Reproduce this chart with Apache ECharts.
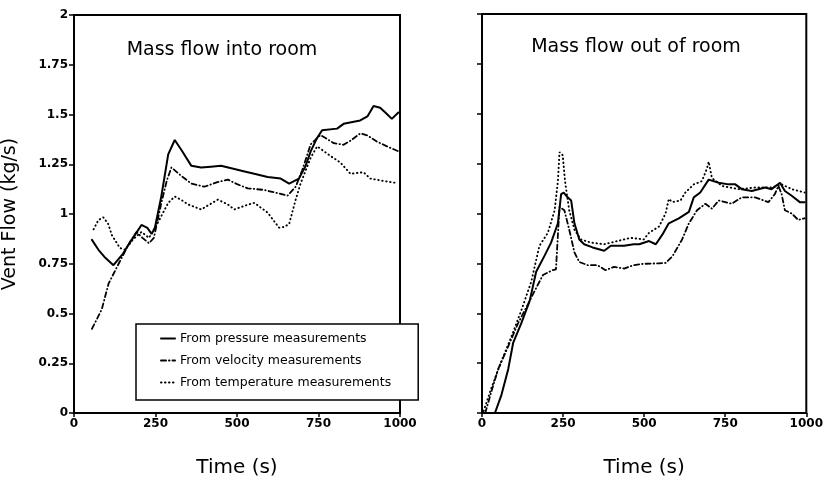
<!DOCTYPE html>
<html>
<head>
<meta charset="utf-8">
<script src="https://cdn.jsdelivr.net/npm/echarts@6/dist/echarts.min.js"></script>
<style>
html,body{margin:0;padding:0;background:#fff;}
#chart{width:826px;height:483px;}
</style>
</head>
<body>
<div id="chart"></div>
<script>
// ---- Data (time in s, vent flow in kg/s) ----
const seriesNames = ['From pressure measurements', 'From velocity measurements', 'From temperature measurements'];
const panelTitles = ['Mass flow into room', 'Mass flow out of room'];
const xTicks = [0, 250, 500, 750, 1000];
const yTicks = [0, 0.25, 0.5, 0.75, 1, 1.25, 1.5, 1.75, 2];

// Left panel: mass flow into room
const inPressureT = [55, 75, 96, 121, 150, 167, 185, 207, 225, 238, 248, 268, 289, 309, 330, 360, 390, 420, 451, 492, 520, 553, 594, 634, 660, 690, 710, 726, 745, 761, 807, 827, 878, 900, 919, 939, 955, 975, 995];
const inPressureV = [0.87, 0.82, 0.78, 0.743, 0.8, 0.845, 0.89, 0.945, 0.93, 0.90, 0.93, 1.09, 1.30, 1.372, 1.32, 1.242, 1.234, 1.238, 1.242, 1.226, 1.215, 1.202, 1.186, 1.178, 1.153, 1.178, 1.24, 1.315, 1.38, 1.421, 1.429, 1.453, 1.47, 1.49, 1.543, 1.534, 1.51, 1.478, 1.51];

const inVelocityT = [55, 85, 106, 140, 172, 192, 210, 230, 245, 268, 285, 299, 330, 360, 400, 440, 472, 500, 533, 583, 624, 655, 680, 700, 726, 756, 797, 827, 850, 878, 900, 929, 960, 995];
const inVelocityV = [0.423, 0.52, 0.65, 0.76, 0.861, 0.91, 0.88, 0.853, 0.88, 1.056, 1.17, 1.234, 1.19, 1.153, 1.137, 1.16, 1.173, 1.15, 1.129, 1.121, 1.105, 1.092, 1.137, 1.22, 1.35, 1.397, 1.356, 1.348, 1.37, 1.405, 1.395, 1.364, 1.34, 1.315];

const inTemperatureT = [60, 75, 90, 105, 116, 141, 157, 182, 207, 230, 258, 289, 309, 330, 350, 390, 441, 470, 492, 530, 553, 594, 629, 645, 660, 680, 695, 726, 746, 787, 817, 848, 888, 909, 949, 985];
const inTemperatureV = [0.923, 0.97, 0.983, 0.95, 0.894, 0.829, 0.821, 0.874, 0.91, 0.88, 0.959, 1.056, 1.088, 1.07, 1.048, 1.023, 1.072, 1.05, 1.023, 1.045, 1.056, 1.007, 0.931, 0.935, 0.95, 1.072, 1.153, 1.283, 1.34, 1.291, 1.259, 1.202, 1.21, 1.178, 1.166, 1.157];

// Right panel: mass flow out of room
const outPressureT = [40, 60, 81, 96, 121, 147, 167, 193, 213, 234, 244, 252, 264, 275, 285, 300, 315, 341, 377, 397, 438, 468, 485, 515, 536, 556, 576, 607, 638, 653, 673, 699, 730, 760, 781, 801, 832, 873, 893, 919, 934, 955, 980, 995];
const outPressureV = [0, 0.091, 0.221, 0.351, 0.449, 0.562, 0.708, 0.789, 0.854, 0.951, 1.097, 1.105, 1.081, 1.065, 0.951, 0.87, 0.846, 0.83, 0.813, 0.838, 0.838, 0.846, 0.846, 0.862, 0.846, 0.894, 0.951, 0.976, 1.008, 1.081, 1.105, 1.17, 1.154, 1.146, 1.146, 1.122, 1.113, 1.13, 1.122, 1.154, 1.113, 1.089, 1.057, 1.057];

const outVelocityT = [10, 29, 50, 81, 111, 142, 162, 188, 218, 228, 239, 254, 269, 285, 300, 326, 356, 381, 407, 438, 468, 499, 546, 566, 587, 617, 638, 663, 689, 709, 730, 770, 801, 842, 883, 903, 914, 924, 934, 955, 975, 995];
const outVelocityV = [0, 0.108, 0.221, 0.335, 0.449, 0.546, 0.611, 0.692, 0.716, 0.72, 1.033, 1.016, 0.919, 0.805, 0.757, 0.741, 0.741, 0.716, 0.732, 0.724, 0.741, 0.748, 0.75, 0.752, 0.785, 0.87, 0.951, 1.016, 1.049, 1.024, 1.065, 1.049, 1.081, 1.081, 1.057, 1.097, 1.138, 1.097, 1.016, 1.0, 0.968, 0.976];

const outTemperatureT = [5, 30, 60, 90, 121, 152, 177, 203, 224, 234, 239, 249, 256, 269, 285, 305, 336, 377, 418, 458, 499, 515, 546, 566, 576, 587, 612, 627, 653, 678, 694, 699, 709, 740, 791, 842, 893, 924, 955, 995];
const outTemperatureV = [0.01, 0.13, 0.26, 0.38, 0.513, 0.659, 0.838, 0.903, 1.016, 1.162, 1.308, 1.292, 1.162, 1.016, 0.919, 0.87, 0.854, 0.846, 0.862, 0.878, 0.87, 0.903, 0.935, 1.0, 1.073, 1.057, 1.065, 1.105, 1.146, 1.162, 1.227, 1.26, 1.178, 1.138, 1.122, 1.13, 1.13, 1.146, 1.122, 1.105];

// ---- Build ----
const zip = (t, v) => t.map((x, i) => [x, v[i]]);
const FONT = 'DejaVu Sans';
const styles = [
  { type: 'solid', width: 2 },
  { type: [5, 3, 0.5, 3], width: 1.8 },
  { type: [0.5, 3.5], width: 1.9 }
];
const panels = [
  [zip(inPressureT, inPressureV), zip(inVelocityT, inVelocityV), zip(inTemperatureT, inTemperatureV)],
  [zip(outPressureT, outPressureV), zip(outVelocityT, outVelocityV), zip(outTemperatureT, outTemperatureV)]
];

const grids = [
  { left: 72, top: 15, width: 328, height: 411 },
  { left: 482, top: 14, width: 326, height: 411 }
];

const series = [];
panels.forEach((p, gi) => {
  p.forEach((d, si) => {
    series.push({
      name: seriesNames[si],
      type: 'line',
      xAxisIndex: gi, yAxisIndex: gi,
      data: d,
      showSymbol: false, symbol: 'none',
      smooth: false,
      lineStyle: { color: '#000', type: styles[si].type, width: styles[si].width, cap: 'round' },
      itemStyle: { color: '#000' },
      animation: false
    });
  });
});

const option = {
  backgroundColor: '#fff',
  animation: false,
  title: [
    { text: panelTitles[0], left: 222, top: 41, textAlign: 'center', padding: 0,
      textStyle: { fontFamily: FONT, fontSize: 19, fontWeight: 'normal', color: '#000' } },
    { text: panelTitles[1], left: 636, top: 38, textAlign: 'center', padding: 0,
      textStyle: { fontFamily: FONT, fontSize: 19, fontWeight: 'normal', color: '#000' } }
  ],
  grid: grids.map(g => Object.assign({ show: true, borderColor: '#000', borderWidth: 2, backgroundColor: 'transparent' }, g)),
  xAxis: [0, 1].map(i => ({
    type: 'value', gridIndex: i, min: xTicks[0], max: xTicks[xTicks.length - 1], interval: 250,
    name: 'Time (s)', nameLocation: 'middle', nameGap: 45,
    nameTextStyle: { fontFamily: FONT, fontSize: 20, color: '#000' },
    axisLine: { show: true, lineStyle: { color: '#000', width: 2 } },
    axisTick: { show: true, inside: false, length: 4, lineStyle: { color: '#000', width: 1.5 } },
    axisLabel: { fontFamily: FONT, fontSize: 12, fontWeight: 'bold', color: '#000', margin: 5,
      formatter: v => String(v) },
    splitLine: { show: false }
  })),
  yAxis: [0, 1].map(i => ({
    type: 'value', gridIndex: i, min: yTicks[0], max: yTicks[yTicks.length - 1], interval: 0.25,
    name: i === 0 ? 'Vent Flow (kg/s)' : '', nameLocation: 'middle', nameGap: 54,
    nameTextStyle: { fontFamily: FONT, fontSize: 19, color: '#000' },
    axisLine: { show: true, lineStyle: { color: '#000', width: 2 } },
    axisTick: { show: true, inside: false, length: 5, lineStyle: { color: '#000', width: 1.5 } },
    axisLabel: { show: i === 0, fontFamily: FONT, fontSize: 12, fontWeight: 'bold', color: '#000', margin: 6,
      formatter: v => String(v) },
    splitLine: { show: false }
  })),
  legend: {
    data: seriesNames,
    orient: 'vertical',
    left: 136, top: 324,
    padding: [8, 27, 11, 24],
    itemWidth: 14, itemHeight: 14, itemGap: 9,
    backgroundColor: '#fff',
    borderColor: '#000', borderWidth: 1.5,
    selectedMode: false,
    itemStyle: { opacity: 0 },
    textStyle: { fontFamily: FONT, fontSize: 12.5, color: '#000' }
  },
  series: series
};

const chart = echarts.init(document.getElementById('chart'), null, { renderer: 'canvas' });
chart.setOption(option);
</script>
</body>
</html>
